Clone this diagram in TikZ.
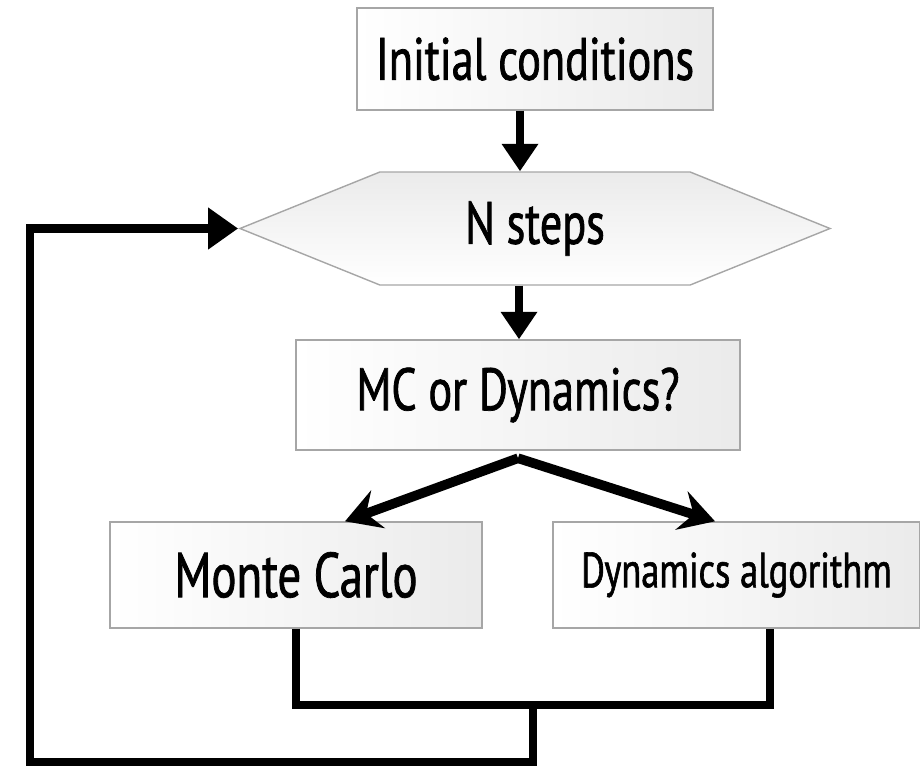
\documentclass[tikz,border=0pt]{standalone}
\usepackage{fontspec}
\setmainfont{PT Sans}[FakeStretch=0.74,FakeBold=1.2]
\usetikzlibrary{arrows.meta,positioning,shapes.symbols}

\begin{document}
\begin{tikzpicture}[
    box/.style={draw=gray!70,line width=0.8pt,left color=white,right color=gray!16,align=center,font=\fontsize{34}{38}\selectfont},
    hexa/.style={signal,signal to=east and west,signal pointer angle=44,draw=gray!70,line width=0.8pt,top color=gray!16,bottom color=white,font=\fontsize{34}{38}\selectfont},
    arr/.style={-{Triangle[length=5.5mm,width=7mm]},line width=4.5pt},
    farr/.style={-{Stealth[length=7mm,width=8mm,inset=2.5mm]},line width=5.5pt},
    loop/.style={line width=5pt}]
    \useasboundingbox (0,0) rectangle (18.4,-15.5);
    \node[box,minimum width=71.2mm,minimum height=20.4mm] (init) at (10.7,-1.18) {Initial conditions};
    \node[hexa,minimum width=118mm,minimum height=22.6mm] (steps) at (10.7,-4.57) {N steps};
    \node[box,minimum width=88.8mm,minimum height=22mm] (choice) at (10.36,-7.9) {MC or Dynamics?};
    \node[box,minimum width=74.4mm,minimum height=21.2mm,font=\fontsize{36}{40}\selectfont] (mc) at (5.92,-11.5) {Monte Carlo};
    \node[box,minimum width=73.4mm,minimum height=21.2mm,font=\fontsize{28}{33}\selectfont] (dyn) at (14.73,-11.5) {Dynamics algorithm};
    \coordinate[below=1.5mm of choice.south] (fork);
    \coordinate (mctop) at ([xshift=9.8mm]mc.north);
    \coordinate (dyntop) at ([xshift=-4.3mm]dyn.north);
    \coordinate (dynfoot) at ([xshift=6.7mm]dyn.south);
    \coordinate (join) at (10.66,-14.1);
    \coordinate (back) at (0.6,-15.24);
    \draw[arr] ([xshift=-3mm]init.south)--([xshift=-3mm]init.south|-steps.north); \draw[arr] ([xshift=-3.2mm]steps.south)--([xshift=-3.2mm]steps.south|-choice.north);
    \draw[farr] (fork)--(mctop); \draw[farr] (fork)--(dyntop);
    \draw[loop] (mc.south)|-(join)-|(dynfoot);
    \draw[loop,-{Triangle[length=6mm,width=8mm]}] (join)|-(back)|-(steps.west);
  \end{tikzpicture}
\end{document}
